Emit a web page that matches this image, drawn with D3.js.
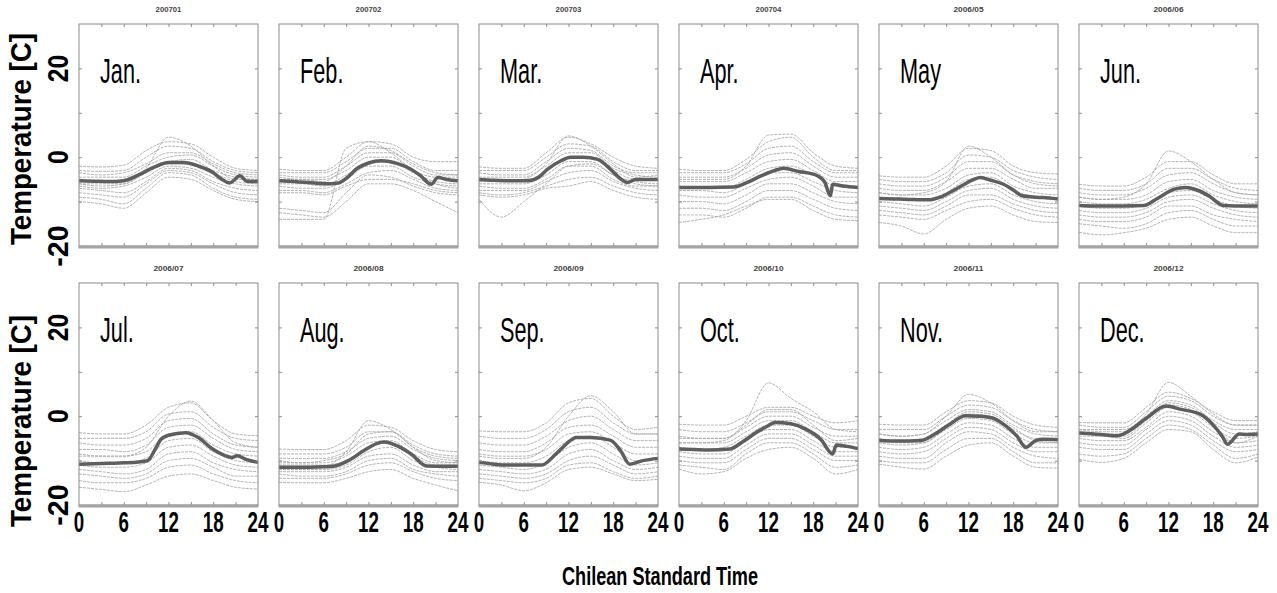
<!DOCTYPE html>
<html>
<head>
<meta charset="utf-8">
<script src="https://cdn.jsdelivr.net/npm/d3@7"></script>
<style>
  body { margin: 0; background: #fff; }
  svg { display: block; }
  text { font-family: "Liberation Sans", Arial, sans-serif; }
</style>
</head>
<body>
<div id="chart"></div>
<script>
// ---- data ----
const monthLabels = ["Jan.", "Feb.", "Mar.", "Apr.", "May", "Jun.",
                     "Jul.", "Aug.", "Sep.", "Oct.", "Nov.", "Dec."];
const panelTitles = ["200701", "200702", "200703", "200704", "2006/05", "2006/06",
                     "2006/07", "2006/08", "2006/09", "2006/10", "2006/11", "2006/12"];
const xTickLabels = [0, 6, 12, 18, 24];
const yTickLabels = [20, 0, -20];
const dayHours = [0, 3, 6, 9, 12, 15, 18, 21, 24];

// monthly mean diurnal curve, [hour, temperature]
const meanCurves = [
  [[0,-5.3],[2,-5.4],[4,-5.5],[6,-5.3],[8,-4],[10,-2.3],[12,-1.2],[14,-1.2],[16,-2],[18,-3.5],[19,-4.8],[20.2,-5.8],[21.6,-4.2],[22.5,-5.4],[24,-5.5]],
  [[0,-5.3],[2,-5.5],[4,-5.7],[6,-6],[8,-5.8],[9,-4.8],[10.5,-2.5],[12,-1.3],[13.7,-0.8],[16,-1.5],[17.7,-2.7],[19,-4.2],[20.4,-6.1],[21.3,-4.6],[22.5,-5],[24,-5.3]],
  [[0,-5],[2,-5.2],[4,-5.3],[6.5,-5.3],[8,-4.5],[9.2,-2.7],[11,-0.8],[12.3,0],[14,0],[15.9,-0.5],[17.5,-2.5],[19,-4.9],[19.9,-5.7],[21,-5],[24,-5]],
  [[0,-6.8],[2,-6.8],[4,-6.8],[7.3,-6.7],[9,-5.8],[11,-4.2],[13.4,-2.7],[14,-2.5],[16,-3.2],[18,-3.8],[19.5,-5.5],[20.3,-8.7],[20.6,-6.1],[22,-6.5],[24,-6.8]],
  [[0,-9.3],[2,-9.4],[4,-9.5],[6.6,-9.6],[8.5,-8.8],[10.5,-7],[12.6,-5.1],[13.6,-4.6],[15,-5.2],[16.7,-6.1],[18,-7.4],[19.2,-8.7],[21,-9],[22,-9.1],[24,-9.4]],
  [[0,-10.9],[2,-11],[4,-11],[6,-11],[8.7,-10.9],[10.5,-9.3],[12.8,-7.2],[14.3,-6.8],[16,-7.5],[17.4,-8.7],[19.4,-10.9],[21,-11],[24,-11]],
  [[0,-10.8],[2,-10.7],[4,-10.6],[6,-10.5],[8,-10.3],[9.2,-10],[10.2,-7.5],[11,-5.2],[12,-4.3],[14.3,-3.7],[16,-4.8],[17.9,-7.4],[19.5,-8.8],[20.5,-9.3],[21.2,-8.9],[22.5,-9.8],[24,-10.4]],
  [[0,-11.5],[2,-11.5],[4,-11.5],[6,-11.4],[7.5,-11.2],[9.5,-9.8],[11.5,-7.6],[13.6,-5.9],[14.1,-5.8],[16,-6.8],[17.7,-8.5],[19.8,-11.2],[22,-11.3],[24,-11.3]],
  [[0,-10.4],[2,-10.8],[4,-11],[6,-11],[8.4,-11],[10.5,-8.2],[12.5,-5.2],[13,-4.8],[15,-4.8],[17.6,-5.4],[19,-7.8],[20.2,-10.8],[22,-10],[24,-9.5]],
  [[0,-7.4],[2,-7.5],[4,-7.6],[6.8,-7.4],[8.5,-5.8],[10.5,-3.5],[11.9,-2.2],[12.9,-1.4],[15,-1.7],[17,-2.9],[19,-5.2],[20.6,-8.5],[21.1,-6.5],[22.5,-6.8],[24,-7.3]],
  [[0,-5.5],[2,-5.6],[4,-5.6],[5.6,-5.5],[7.5,-4],[9.5,-1.8],[11.6,0.1],[13.5,0],[15.2,-0.4],[17,-2.2],[18.5,-4.5],[19.7,-7],[21,-5.5],[22,-5.2],[24,-5.3]],
  [[0,-3.8],[2,-4],[4,-4.3],[5.1,-4.4],[7,-3],[9,-0.5],[11.7,2.3],[13.5,1.6],[16.3,0.4],[18,-2],[19.2,-4.5],[19.9,-6.3],[21.5,-4],[22.5,-4.1],[24,-4]]
];

// individual days, temperature at dayHours
const dailyCurves = [
  [ // Jan
    [-2,-2.2,-1.8,1.5,3.5,3,0,-2.5,-3], [-3,-3.2,-3,0,2.5,2,-1,-3,-3.5], [-3.5,-4,-3.5,-1.5,1,1,-1.5,-3.5,-4],
    [-4.5,-4.5,-4.5,-2,0,0.5,-2,-4,-4.5], [-5,-5.5,-5,-3,-1,-0.5,-3,-4.5,-5], [-6,-6,-6,-3.5,-1.5,-1.5,-3.5,-5.5,-6],
    [-6.5,-7,-6.5,-4.5,-2,-2.5,-4.5,-6,-6.5], [-7,-7.5,-8,-5.5,-2.5,-3,-5.5,-7,-7.5], [-8,-8.5,-9,-6,-3,-3.5,-6,-8,-8.5],
    [-9,-9.5,-10.5,-7,-3.5,-4,-7,-9,-9.5], [-10,-10.5,-11.5,-8,-4.5,-5,-7.5,-9.5,-10], [-6,-6.5,-6,-2.5,4.5,2.5,-2,-5,-5]
  ],
  [ // Feb
    [-2.7,-3,-3,0,3.5,3,0,-1,-1], [-3.5,-3.5,-3.5,-1,2,2,-1,-3,-3], [-4,-4.5,-4.5,-2,1,1,-2,-4,-4],
    [-4.5,-5,-5,-3,0,0,-3,-4.5,-4.5], [-6,-6,-6.5,-4,-1.5,-1,-3.5,-5.5,-6], [-6.5,-7,-7,-5,-2,-2,-4.5,-6,-6.5],
    [-7.5,-7.5,-8,-6,-3.5,-3,-5,-7,-7.5], [-8,-8,-8.5,-6.5,-5,-5,-6,-7.5,-8], [-11.5,-12,-12.5,-8,-4,-4.5,-6.5,-8,-8.5],
    [-12.5,-13,-13.5,-10,-6,-6,-7.5,-10,-12.5], [-14,-14,-14,2,3.5,1,-3,-6,-7], [-5,-5,-5.5,-2,2.5,1.5,-1.5,-3.5,-4]
  ],
  [ // Mar
    [-2.2,-2.5,-2.5,1,4.5,3,0,-2,-2.5], [-3,-3,-3,0,3,2.5,-1,-3,-3], [-3.5,-4,-4,-1,2,1.5,-2,-3.5,-3.5],
    [-4.5,-4.5,-4.5,-2,1,1,-2.5,-4,-4.5], [-5.5,-5.5,-5.5,-3,0,0,-3,-5,-5], [-6,-6,-6,-4,-1,-1,-4,-5.5,-6],
    [-6.5,-7,-7,-5,-2,-2,-5,-6.5,-6.5], [-7.5,-7.5,-7.5,-5.5,-3.5,-3,-5.5,-7,-7.5], [-8,-8.5,-8,-6.5,-5,-4.5,-6.5,-8,-8.5],
    [-8.5,-9,-8.5,-7,-6.5,-5.5,-7.5,-9,-9.5], [-9.5,-13.5,-10,-6,-2,-1.5,-4,-6,-6.5], [-5,-5.5,-5,-1.5,4.8,2.5,-1.5,-4.5,-4]
  ],
  [ // Apr
    [-2.7,-3,-3,-0.5,3.5,4.5,0,-3,-3], [-3.5,-3.5,-3.5,-1.5,2,2.5,-1,-3.5,-3.5], [-4.5,-4.5,-4.5,-2.5,0.5,1,-2,-4.5,-4.5],
    [-5.5,-5.5,-5.5,-3.5,-1,-0.5,-3,-5.5,-5.5], [-6.5,-7,-7,-5,-2.5,-2,-4,-6.5,-7], [-7.5,-7.5,-8,-6,-3.5,-3.5,-5.5,-7.5,-8],
    [-8.5,-9,-9,-7,-5,-4.5,-6.5,-9,-9], [-10,-10,-10.5,-8.5,-6,-6,-8,-10,-10.5], [-11.5,-11.5,-12,-10,-7.5,-7.5,-9.5,-11.5,-12],
    [-13,-13,-13.5,-11.5,-9,-9,-11,-13,-13.5], [-14.7,-14,-13,-11,-9.5,-9.5,-12,-14,-14.3], [-5,-5,-5,-2,5,5.2,1,-2,-2.5]
  ],
  [ // May
    [-4.2,-4.5,-4.5,-2,2,1.5,-2,-3.5,-3.8], [-5,-5.5,-5.5,-3.5,0.5,0,-3,-4.5,-5], [-6,-6.5,-6.5,-4.5,-1,-1,-4,-5.5,-6],
    [-7,-7.5,-7.5,-5.5,-2.5,-2.5,-5,-7,-7], [-8,-8.5,-8.5,-7,-4,-3.5,-6.5,-8,-8.5], [-9,-9.5,-9.5,-8,-5,-4.5,-7.5,-9,-9.5],
    [-10,-10.5,-11,-9,-6.5,-6,-8.5,-10,-10.5], [-11,-11.5,-12,-10,-7.5,-7,-9.5,-11,-11.5], [-12,-12.5,-13,-11,-8.5,-8.5,-10.5,-12,-12.5],
    [-13,-13.5,-14,-12,-10,-9.5,-11.5,-13,-13.5], [-14.7,-15.5,-17.3,-14,-11.5,-11,-13,-14.5,-14.7], [-8,-8.5,-8,-5.5,2.5,0,-4,-6,-6.5]
  ],
  [ // Jun
    [-6.1,-6.5,-6.5,-4.5,-1,-1,-4,-6,-6], [-7,-7.5,-7.5,-6,-2.5,-2.5,-5,-7,-7.5], [-8,-8.5,-8.5,-7,-4,-3.5,-6,-8,-8.5],
    [-9,-9.5,-9.5,-8.5,-5.5,-5,-7.5,-9,-9.5], [-10,-10.5,-10.5,-9.5,-7,-6,-8.5,-10,-10.5], [-11,-11.5,-11.5,-10.5,-8,-7.5,-9.5,-11,-11.5],
    [-12,-12.5,-12.5,-11.5,-9,-8.5,-10.5,-12,-12.5], [-13,-13.5,-13.5,-12.5,-10,-9.5,-11.5,-13,-13.5], [-14,-14.5,-14.5,-13.5,-11,-11,-13,-14,-14.5],
    [-15,-15.5,-16,-15,-12.5,-12,-14,-15.5,-15.5], [-16.9,-17.5,-17,-16,-14,-13.5,-15.5,-17,-17], [-9,-9.5,-9,-6,1.4,-1,-5,-8,-8.5]
  ],
  [ // Jul
    [-3.7,-4,-4,-2,2,3,-1,-4,-4.4], [-5,-5,-5,-3.5,0.5,1,-2.5,-5,-5.5], [-6,-6.5,-6.5,-5,-1,-0.5,-4,-6.5,-7],
    [-7.5,-7.5,-8,-6.5,-2.5,-2,-5,-7.5,-8], [-8.5,-9,-9,-8,-4,-3.5,-6.5,-8.5,-9], [-10,-10.5,-10.5,-9.5,-5.5,-5,-8,-10,-10.5],
    [-11,-11.5,-11.5,-10.5,-7,-6.5,-9,-11,-11.5], [-12,-12.5,-13,-12,-8.5,-8,-10.5,-12,-12.5], [-13,-13.5,-14,-13,-10,-9.5,-11.5,-13.5,-13.5],
    [-14.5,-15,-15,-14,-11.5,-11,-13,-14.5,-15], [-16,-16.5,-17,-15.5,-13.5,-13,-14.5,-16,-16.4], [-9,-9,-9,-7,0,3.4,-1,-6,-7]
  ],
  [ // Aug
    [-7.4,-7.5,-7.5,-5.5,-2,-2.5,-5.5,-7.5,-8], [-8.5,-8.5,-8.5,-7,-3.5,-3.5,-6.5,-8.5,-9], [-9.5,-9.5,-9.5,-8,-5,-4.5,-7.5,-9.5,-10],
    [-10.5,-10.5,-10.5,-9,-6,-5.5,-8.5,-10.5,-10.5], [-11,-11,-11,-10,-7,-6,-9,-11,-11], [-11.5,-12,-12,-11,-8,-7,-10,-11.5,-12],
    [-12.5,-12.5,-12.5,-11.5,-9,-8.5,-11,-12.5,-12.5], [-13,-13.5,-13.5,-12.5,-10,-9.5,-12,-13,-13.5], [-14,-14,-14,-13,-11,-10.5,-12.5,-14,-14.5],
    [-14.9,-15,-15,-14,-12.5,-12,-14,-15.5,-16.8], [-12,-12,-11.5,-8,-1,-3,-7,-10,-10.5], [-10,-10.5,-10,-8.5,-4,-3.5,-7,-9,-9.5]
  ],
  [ // Sep
    [-3.3,-3.5,-3.5,-1.5,3,4,0,-3,-2.5], [-4.5,-5,-5,-3,1,2,-1.5,-4,-4], [-6,-6.5,-6.5,-4.5,-1,0,-3,-5.5,-5.5],
    [-7.5,-8,-8,-6,-2.5,-2,-4.5,-7,-7], [-8.5,-9,-9,-7.5,-4,-3.5,-6,-8.5,-8.5], [-10,-10.5,-10.5,-9,-5.5,-4.5,-7,-10,-9.5],
    [-11,-11.5,-12,-10.5,-7,-6,-8.5,-11,-10.5], [-12,-12.5,-13,-12,-8.5,-7.5,-10,-12,-11.5], [-13,-13.5,-14,-13,-10,-9,-11,-13,-12.5],
    [-14,-14.5,-15,-14,-11,-10.5,-12.5,-14,-13.5], [-14.9,-15.5,-16.8,-15,-12,-11.5,-13,-14.5,-14.2], [-9,-9.5,-9.5,-7,0,4.6,1,-4,-4]
  ],
  [ // Oct
    [-1.8,-2,-2,0,2,2,0,-1.5,-1], [-3,-3.5,-3.5,-1.5,1,1,-1,-3,-3], [-4.5,-5,-5,-2.5,0,0,-2.5,-4.5,-4.5],
    [-6,-6,-6,-3.5,-1,-1,-3.5,-6,-6], [-7,-7.5,-7,-4.5,-2,-2,-4.5,-7,-7], [-8,-8.5,-8.5,-5.5,-3,-3,-5.5,-8,-8],
    [-9,-9.5,-9.5,-6.5,-4,-4,-6.5,-9,-9], [-10,-10.5,-10.5,-7.5,-5,-5,-7.5,-10,-10], [-11,-11.5,-12,-8.5,-6,-6,-8.5,-11.5,-11],
    [-11.9,-13,-12.5,-9.5,-7.5,-7,-9.5,-13,-12], [-6,-6,-5.5,-1,7.5,4,1,-3,-3.5], [-5,-5,-5,-2,1.5,1.5,-2,-5.5,-5]
  ],
  [ // Nov
    [-1.8,-2,-2,1,3.5,3,0,-2,-2.5], [-3,-3,-3,0,2.5,2,-1,-3,-3.5], [-4,-4.5,-4,-1,1.5,1,-2,-4,-4.5],
    [-5,-5.5,-5,-2,0.5,0,-3,-5,-5], [-6,-6.5,-6,-3,-0.5,-1,-4,-6,-6], [-7,-7.5,-7,-4,-1.5,-2,-5,-7,-7],
    [-8,-8.5,-8,-5,-2.5,-3,-6,-8,-8], [-9,-9.5,-9.5,-6,-3.5,-4,-7,-9,-9.5], [-10,-10.5,-10.5,-7.5,-5,-5,-8,-10.5,-10.5],
    [-10.8,-11.5,-11.9,-9,-6.5,-6,-9,-11.5,-11.7], [-4,-4.5,-4,0,4.9,3,-1,-3.5,-3.5], [-5.5,-6,-6,-2,1,0.5,-2.5,-5.5,-6]
  ],
  [ // Dec
    [-1.4,-1.5,-1.5,2,5.4,4,1,-1,-1], [-2,-2.5,-2.5,1,4.5,3.5,0,-2,-2], [-3,-3,-3,0,3.5,2.5,-1,-3,-3],
    [-3.5,-4,-4,-0.5,3,2,-1.5,-4,-3.5], [-4.5,-4.5,-5,-1.5,2,1,-2.5,-5,-4.5], [-5,-5.5,-5.5,-2.5,1,0,-3.5,-6,-5.5],
    [-6,-6.5,-6.5,-3,0,-1,-4.5,-7,-6.5], [-7,-7.5,-7.5,-4,-1,-2,-5.5,-8,-7.5], [-8.5,-9,-8.5,-5,-2,-3,-6.5,-9.5,-8.5],
    [-9.7,-10.4,-9.5,-6,-3,-3.5,-7.5,-10.5,-9.2], [-3,-3.5,-3.5,0.5,7.6,4.5,0.5,-2,-2], [-4,-4,-4.5,-1,2.5,1.5,-2,-6,-4.5]
  ]
];

// ---- layout ----
const W = 1277, H = 593;
const panelW = 179, panelH = 222;
const left0 = 79, colStep = 200;
const rowTops = [24, 283];
const titleCenters = [139, 421];

const svg = d3.select("#chart").append("svg")
  .attr("width", W)
  .attr("height", H);

const x = d3.scaleLinear().domain([0, 24]).range([0, panelW]);
const y = d3.scaleLinear().domain([-20, 30]).range([panelH, 0]);

const line = d3.line()
  .x((d) => x(d[0]))
  .y((d) => y(d[1]))
  .curve(d3.curveMonotoneX);

const tickColor = "#8c8c8c";

function styleTicks(g) {
  g.select(".domain").remove();
  g.selectAll(".tick line").attr("stroke", tickColor);
  g.selectAll(".tick text").remove();
}

monthLabels.forEach((month, i) => {
  const col = i % 6;
  const row = Math.floor(i / 6);
  const g = svg.append("g")
    .attr("transform", `translate(${left0 + col * colStep},${rowTops[row]})`);

  // small title above panel
  g.append("text")
    .attr("x", panelW / 2)
    .attr("y", -12)
    .attr("text-anchor", "middle")
    .style("font-size", "7px")
    .style("font-weight", "bold")
    .attr("fill", "#444")
    .attr("textLength", panelTitles[i].length * 4.3)
    .attr("lengthAdjust", "spacingAndGlyphs")
    .text(panelTitles[i]);

  // individual days
  g.selectAll(".day")
    .data(dailyCurves[i])
    .enter()
    .append("path")
    .attr("class", "day")
    .attr("fill", "none")
    .attr("stroke", "#a2a2a2")
    .attr("stroke-width", 0.9)
    .attr("stroke-dasharray", "3,1")
    .attr("stroke-opacity", 0.9)
    .attr("d", (vals) => line(vals.map((v, k) => [dayHours[k], v])));

  // monthly mean
  g.append("path")
    .attr("fill", "none")
    .attr("stroke", "#5e5e5e")
    .attr("stroke-width", 3.5)
    .attr("stroke-linejoin", "round")
    .attr("d", line(meanCurves[i]));

  // inward ticks on all four sides
  const xt = d3.range(3, 24, 3);
  const yt = [-10, 0, 10, 20];
  g.append("g").call(d3.axisTop(x).tickValues(xt).tickSize(-3)).call(styleTicks);
  g.append("g").attr("transform", `translate(0,${panelH})`)
    .call(d3.axisBottom(x).tickValues(xt).tickSize(-3)).call(styleTicks);
  g.append("g").call(d3.axisLeft(y).tickValues(yt).tickSize(-3)).call(styleTicks);
  g.append("g").attr("transform", `translate(${panelW},0)`)
    .call(d3.axisRight(y).tickValues(yt).tickSize(-3)).call(styleTicks);

  // frame
  g.append("rect")
    .attr("width", panelW)
    .attr("height", panelH)
    .attr("fill", "none")
    .attr("stroke", tickColor)
    .attr("stroke-width", 1);
  g.append("line")
    .attr("x1", -0.5).attr("x2", panelW + 0.5)
    .attr("y1", panelH + 1).attr("y2", panelH + 1)
    .attr("stroke", "#a4a4a4")
    .attr("stroke-width", 3);

  // month name
  g.append("text")
    .attr("y", 59)
    .attr("transform", "translate(21,0) scale(0.62,1)")
    .style("font-size", "35px")
    .attr("fill", "#000")
    .text(month);

  // y tick labels on the first column only
  if (col === 0) {
    yTickLabels.forEach((v) => {
      const s = String(v);
      g.append("text")
        .attr("transform", `translate(-11,${y(v)}) rotate(-90)`)
        .attr("text-anchor", "middle")
        .style("font-size", "30px")
        .style("font-weight", "bold")
        .attr("textLength", s.length * 13.8)
        .attr("lengthAdjust", "spacingAndGlyphs")
        .text(s);
    });
  }

  // x tick labels on the bottom row only
  if (row === 1) {
    xTickLabels.forEach((v) => {
      const s = String(v);
      g.append("text")
        .attr("x", x(v))
        .attr("y", panelH + 27)
        .attr("text-anchor", "middle")
        .style("font-size", "30px")
        .style("font-weight", "bold")
        .attr("textLength", s.length * 10.4)
        .attr("lengthAdjust", "spacingAndGlyphs")
        .text(s);
    });
  }
});

// axis titles
titleCenters.forEach((cy) => {
  svg.append("text")
    .attr("transform", `translate(31,${cy}) rotate(-90)`)
    .attr("text-anchor", "middle")
    .style("font-size", "30px")
    .style("font-weight", "bold")
    .attr("textLength", 212)
    .attr("lengthAdjust", "spacingAndGlyphs")
    .text("Temperature [C]");
});

svg.append("text")
  .attr("x", 660)
  .attr("y", 585)
  .attr("text-anchor", "middle")
  .style("font-size", "25px")
  .style("font-weight", "bold")
  .attr("textLength", 196)
  .attr("lengthAdjust", "spacingAndGlyphs")
  .text("Chilean Standard Time");
</script>
</body>
</html>
